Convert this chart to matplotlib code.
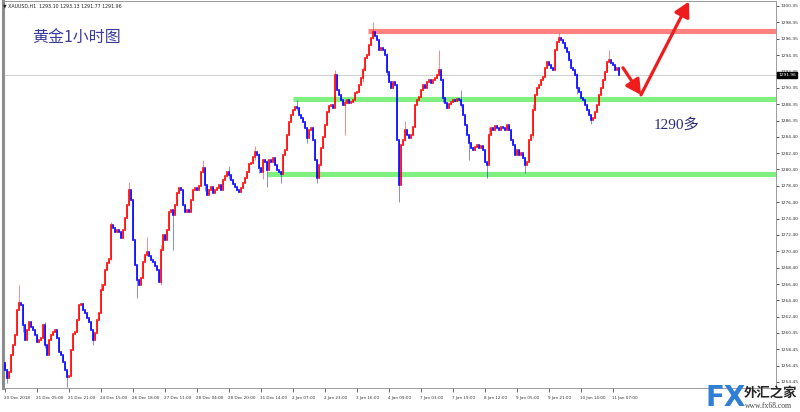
import matplotlib
matplotlib.use("Agg")
import matplotlib.pyplot as plt
import matplotlib.transforms as mtransforms
import numpy as np

# ---------------- data ----------------
first_open = 1256.8
closes = [
    1255.9, 1254.9, 1255.7, 1257.7, 1259.0, 1260.2, 1263.2, 1264.1, 1263.8, 1261.4,
    1259.6, 1260.8, 1261.8, 1261.2, 1260.8, 1260.2, 1259.3, 1259.6, 1259.8, 1261.4,
    1259.0, 1257.7, 1259.6, 1260.2, 1260.5, 1260.8, 1259.8, 1258.1, 1257.7, 1256.9,
    1255.9, 1255.1, 1255.2, 1258.4, 1260.3, 1260.5, 1262.0, 1263.8, 1264.0, 1263.2,
    1262.9, 1262.3, 1261.8, 1260.8, 1259.6, 1260.4, 1262.0, 1262.9, 1265.7, 1266.3,
    1268.1, 1269.0, 1269.5, 1273.6, 1273.2, 1272.8, 1273.0, 1272.8, 1272.0, 1273.0,
    1274.5, 1276.0, 1277.9, 1276.7, 1271.8, 1268.7, 1266.9, 1266.3, 1267.1, 1269.1,
    1270.0, 1270.3, 1269.8, 1269.3, 1269.1, 1268.6, 1268.1, 1266.7, 1270.6, 1272.4,
    1271.8, 1273.0, 1275.2, 1275.4, 1274.8, 1276.0, 1277.5, 1278.1, 1277.9, 1276.0,
    1275.2, 1275.4, 1275.2, 1276.7, 1277.9, 1278.1, 1277.9, 1278.4, 1280.1, 1280.6,
    1278.5, 1277.3, 1277.9, 1278.2, 1277.5, 1277.9, 1278.1, 1278.5, 1277.9, 1279.1,
    1279.6, 1280.1, 1279.7, 1279.1, 1278.6, 1278.2, 1277.9, 1277.6, 1278.1, 1278.7,
    1279.3, 1280.1, 1281.1, 1281.2, 1281.9, 1282.5, 1282.2, 1280.6, 1280.1, 1281.5,
    1281.3, 1280.3, 1281.5, 1281.3, 1281.8, 1280.9, 1280.3, 1280.1, 1279.8, 1282.2,
    1282.8, 1284.6, 1286.2, 1287.0, 1287.6, 1288.0, 1287.9, 1287.0, 1286.7, 1286.2,
    1285.5, 1284.2, 1285.2, 1285.5, 1284.0, 1281.5, 1279.4, 1280.9, 1283.0, 1284.4,
    1285.8, 1287.4, 1288.1, 1288.3, 1287.9, 1291.9, 1290.1, 1289.5, 1288.9, 1288.3,
    1288.5, 1288.9, 1288.5, 1288.6, 1288.9, 1289.7, 1289.9, 1290.7, 1291.6, 1292.5,
    1294.0, 1294.4, 1295.6, 1296.4, 1297.2, 1296.7, 1296.2, 1295.0, 1295.2, 1295.0,
    1294.4, 1292.3, 1291.1, 1290.3, 1291.1, 1290.7, 1284.0, 1278.5, 1283.4, 1284.0,
    1285.2, 1284.6, 1284.2, 1284.6, 1285.6, 1288.3, 1288.9, 1289.2, 1290.1, 1290.7,
    1290.3, 1291.1, 1291.3, 1291.0, 1291.3, 1291.6, 1291.9, 1292.5, 1291.3, 1289.1,
    1288.5, 1287.9, 1288.4, 1288.6, 1288.9, 1288.8, 1289.0, 1288.9, 1288.3, 1287.0,
    1285.8, 1284.6, 1283.6, 1283.0, 1282.8, 1283.1, 1283.4, 1283.0, 1283.3, 1282.8,
    1281.3, 1280.9, 1284.6, 1285.5, 1285.2, 1285.7, 1285.5, 1285.2, 1285.6, 1285.5,
    1285.2, 1285.8, 1285.2, 1284.0, 1283.4, 1282.2, 1282.8, 1282.2, 1282.4, 1281.8,
    1280.9, 1281.3, 1284.0, 1284.6, 1287.6, 1289.5, 1290.3, 1290.7, 1291.3, 1291.7,
    1292.8, 1293.5, 1293.1, 1292.8, 1292.5, 1295.0, 1296.0, 1296.4, 1296.2, 1295.8,
    1295.2, 1294.7, 1293.8, 1292.8, 1292.5, 1291.9, 1290.3, 1289.9, 1289.1, 1288.9,
    1288.3, 1287.6, 1287.0, 1286.4, 1286.7, 1287.4, 1288.3, 1289.5, 1290.3, 1291.3,
    1292.3, 1293.5, 1293.8, 1293.4, 1293.1, 1292.5, 1292.8, 1291.96,
]
# notable wick extremes: bar index -> (high, low)
wick_extremes = {
    1: (1256.0, 1254.3), 7: (1266.3, 1263.3), 9: (1264.0, 1260.6),
    20: (1261.8, 1258.6), 31: (1255.9, 1253.8), 44: (1260.6, 1258.9),
    48: (1266.5, 1262.9), 53: (1274.0, 1269.3), 62: (1278.9, 1276.0),
    66: (1268.7, 1264.7), 71: (1272.1, 1269.8), 78: (1271.2, 1266.3),
    84: (1275.4, 1270.6), 99: (1281.6, 1279.9), 100: (1280.6, 1277.8),
    112: (1280.8, 1279.2), 125: (1283.3, 1281.6), 127: (1282.4, 1279.9),
    129: (1281.7, 1279.2), 131: (1281.5, 1278.2), 138: (1280.2, 1278.8),
    146: (1288.9, 1287.6), 151: (1285.6, 1283.6), 156: (1281.5, 1278.7),
    165: (1292.5, 1287.9), 170: (1288.9, 1284.6), 179: (1292.9, 1291.1),
    184: (1298.4, 1296.3), 191: (1294.6, 1291.9), 197: (1284.0, 1276.4),
    200: (1286.3, 1283.9), 217: (1295.0, 1291.8), 219: (1291.5, 1288.6),
    228: (1290.1, 1288.0), 232: (1284.6, 1281.5), 241: (1281.3, 1279.4),
    242: (1285.6, 1280.9), 260: (1281.8, 1280.0), 264: (1288.4, 1284.2),
    277: (1297.0, 1295.9), 286: (1292.2, 1289.6), 293: (1287.0, 1286.0),
    302: (1295.0, 1293.5),
}

header = "\u25BC XAUUSD,H1  1293.10 1293.13 1291.77 1291.96"
title_cn = "黄金1小时图"
note_cn = "1290多"
last_price = 1291.96

ytick_vals = [1300.35, 1298.35, 1296.35, 1294.35, 1292.35, 1290.35, 1288.35, 1286.35,
              1284.40, 1282.40, 1280.40, 1278.40, 1276.40, 1274.40, 1272.40, 1270.40,
              1268.40, 1266.40, 1264.40, 1262.40, 1260.45, 1258.45, 1256.45, 1254.45]
ytick_labels = ["%.2f" % v for v in ytick_vals]

xtick_labels = ["20 Dec 2018", "21 Dec 05:00", "21 Dec 21:00", "24 Dec 15:00",
                "26 Dec 18:00", "27 Dec 11:00", "28 Dec 04:00", "28 Dec 20:00",
                "31 Dec 14:00", "2 Jan 07:00", "2 Jan 23:00", "3 Jan 16:00",
                "4 Jan 09:00", "7 Jan 03:00", "7 Jan 19:00", "8 Jan 12:00",
                "9 Jan 05:00", "9 Jan 21:00", "10 Jan 14:00", "11 Jan 07:00"]
xtick_step = 16

# support / resistance bands: (price, start bar, colour)
band_levels = [1297.35, 1288.95, 1279.80]
band_starts = [181.5, 144, 131]
band_colors = ["#ff8282", "#80f080", "#80f080"]

# hand drawn arrows (bar index, price)
arrow1 = [(309, 1292.8), (318, 1289.5)]
arrow2 = [(318, 1289.5), (342, 1300.9)]

# ---------------- derived ----------------
n = len(closes)
opens = [first_open] + closes[:-1]
highs = [max(o, c) for o, c in zip(opens, closes)]
lows = [min(o, c) for o, c in zip(opens, closes)]
for k, (h, l) in wick_extremes.items():
    highs[k] = max(highs[k], h)
    lows[k] = min(lows[k], l)
xs = np.arange(n)

W, H = 800, 412
fig = plt.figure(figsize=(W / 100, H / 100), dpi=100)
fig.patch.set_facecolor("white")
ax = fig.add_axes([3 / W, (H - 388) / H, (776 - 3) / W, (388 - 1) / H])
ax.set_facecolor("white")
ax.set_xlim(-1, 385.5)
ax.set_ylim(1253.71, 1300.96)

# current price line
ax.axhline(last_price, color="#c8c8c8", lw=0.6, zorder=1)

# bands
x_right = ax.get_xlim()[1]
for lvl, st, col in zip(band_levels, band_starts, band_colors):
    ax.hlines(lvl, st, x_right, colors=col, lw=3.7, zorder=2)

# bars
up = np.array(closes) >= np.array(opens)
cols = np.where(up, "#ff0000", "#0000ff")
ax.vlines(xs, lows, highs, colors=cols, lw=0.6, alpha=0.55, zorder=3)
blo = np.minimum(opens, closes)
bhi = np.maximum(opens, closes)
for x, lo, hi, c in zip(xs, blo, bhi, cols):
    ax.plot([x, x], [lo, hi], color=c, lw=1.2, solid_capstyle="projecting", zorder=4)

# arrows
for (p0, p1) in [arrow1, arrow2]:
    ax.annotate("", xy=p1, xytext=p0,
                arrowprops=dict(arrowstyle="-|>,head_length=0.55,head_width=0.3",
                                color="#ee1c1c", lw=2.3,
                                mutation_scale=16, shrinkA=0, shrinkB=0),
                zorder=6, annotation_clip=False)

# texts
ax.text(0.038, 0.905, title_cn, transform=ax.transAxes, fontsize=11.5,
        color="#3b3b9e", family=["Noto Sans CJK SC", "DejaVu Sans"], va="center")
ax.text(0.842, (388 - 125) / 387, note_cn, transform=ax.transAxes,
        fontsize=11, color="#2b2b7a", family=["Liberation Serif", "Noto Sans CJK SC"],
        va="center")
fig.text(3 / W, 1 - 6 / H, header, fontsize=3.4, color="#222222", va="center")

# axes styling
ax.yaxis.tick_right()
ax.set_yticks(ytick_vals)
ax.set_yticklabels(ytick_labels)
ax.set_xticks(np.arange(0, len(xtick_labels) * xtick_step, xtick_step))
ax.set_xticklabels(xtick_labels, ha="left")
ax.tick_params(axis="y", labelsize=3.2, length=2, width=0.6, pad=1.2, colors="#333333",
               direction="out")
ax.tick_params(axis="x", labelsize=3.0, length=3, width=0.5, pad=2.5, colors="#333333",
               direction="out")
for lbl in ax.get_xticklabels():
    lbl.set_transform(lbl.get_transform() + mtransforms.ScaledTranslation(-1 / 100, 0, fig.dpi_scale_trans))
for s in ["top", "right", "bottom"]:
    ax.spines[s].set_color("#9a9a9a")
    ax.spines[s].set_linewidth(0.7)
ax.spines["left"].set_color("#8c8c8c")
ax.spines["left"].set_linewidth(2.2)

# current price tag
trans = mtransforms.blended_transform_factory(ax.transAxes, ax.transData)
ax.text(1.003, last_price, "%.2f" % last_price, transform=trans, fontsize=3.2,
        color="white", va="center", ha="left", zorder=7,
        bbox=dict(boxstyle="square,pad=0.25", fc="black", ec="black"))

# watermark
fig.text(705 / W, 1 - 398 / H, "FX", fontsize=20, weight="bold", color="#2f7fd6",
         va="center", ha="left", family="DejaVu Sans")
fig.text(744 / W, 1 - 393 / H, "外汇之家", fontsize=9.6, weight="bold", color="#262626",
         va="center", ha="left", family=["Noto Sans CJK SC", "DejaVu Sans"])
fig.text(745 / W, 1 - 406 / H, "www.fx68.com", fontsize=5.5, color="#444444",
         va="center", ha="left", family="Liberation Serif")

fig.savefig("out.png", dpi=100, facecolor="white")
